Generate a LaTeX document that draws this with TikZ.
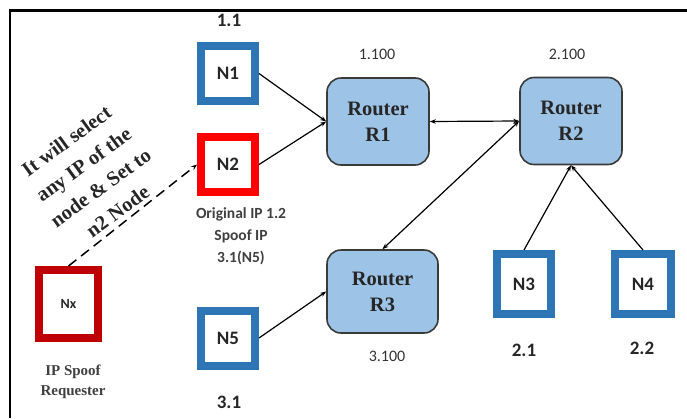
\documentclass[tikz,border=0pt]{standalone}
\usepackage{fontspec}
\setmainfont{Liberation Serif}
\newfontfamily\hostfont{Carlito}
\usetikzlibrary{arrows.meta,positioning}
\definecolor{hostBlue}{HTML}{2E75B6}
\definecolor{spoofRed}{HTML}{FF0000}
\definecolor{reqRed}{HTML}{C00000}
\definecolor{rtrFill}{HTML}{9DC3E6}
\definecolor{rtrDraw}{HTML}{3A3A3A}
\tikzset{
  hostBox/.style={draw=hostBlue, line width=8pt, fill=white, inner sep=0pt,
    minimum width=54pt, minimum height=55pt,
    font=\hostfont\bfseries\fontsize{19}{22}\selectfont, text=black!85},
  spoofBox/.style={hostBox, draw=spoofRed},
  reqBox/.style={hostBox, draw=reqRed, minimum width=59pt, minimum height=68pt,
    font=\hostfont\bfseries\fontsize{14}{16}\selectfont},
  rtrBox/.style={draw=rtrDraw, fill=rtrFill, line width=1.6pt, rounded corners=14pt,
    minimum width=102pt, minimum height=87pt, align=center,
    font=\bfseries\fontsize{20.5}{26}\selectfont, text=black!85},
  %% Address labels
  ipLbl/.style={font=\hostfont\bfseries\fontsize{19}{22}\selectfont, text=black!85},
  rtrLbl/.style={font=\hostfont\fontsize{16}{19}\selectfont, text=black!80},
  noteLbl/.style={font=\hostfont\bfseries\fontsize{15.5}{22}\selectfont, align=center, text=black!75},
  serifNote/.style={font=\bfseries\fontsize{15}{20}\selectfont, align=center, text=black!75},
  %% Links
  link/.style={-{Stealth[length=6pt,width=4.5pt]}, line width=1.2pt},
  biLink/.style={{Stealth[length=6pt,width=4.5pt]}-{Stealth[length=6pt,width=4.5pt]}, line width=1.2pt},
  spoofLink/.style={-{Stealth[length=6pt,width=4.5pt]}, line width=1.5pt, dash pattern=on 10pt off 6pt},
}
\begin{document}
\begin{tikzpicture}[x=1pt, y=-1pt]
\useasboundingbox (0,0) rectangle (687,418);
\draw[line width=2.4pt] (687,10.5) -- (10,10.5) -- (10,418);

\node[hostBox]  (nOne)   at (228,73.5)  {N1};
\node[spoofBox] (nTwo)   at (228,164.5) {N2};
\node[hostBox]  (nFive)  at (228,338)   {N5};
\node[reqBox]   (nX)     at (68.5,304)  {Nx};
\node[hostBox, minimum height=60pt] (nThree) at (524,284) {N3};
\node[hostBox, minimum height=60pt, minimum width=56pt] (nFour) at (643,284) {N4};

\node[rtrBox] (rOne)   at (378,121.5) {Router\\R1};
\node[rtrBox] (rTwo)   at (571,121)   {Router\\R2};
\node[rtrBox, minimum width=111pt, minimum height=83pt] (rThree) at (382.5,291.5) {Router\\R3};

\node[ipLbl]  (ipOne)    at (229,20)  {1.1};
\node[ipLbl]  (ipFive)   at (229,402) {3.1};
\node[ipLbl]  (ipThree)  at (524,350) {2.1};
\node[ipLbl]  (ipFour)   at (642,348) {2.2};
\node[rtrLbl] (ipROne)   at (377,54)  {1.100};
\node[rtrLbl] (ipRTwo)   at (567,54)  {2.100};
\node[rtrLbl] (ipRThree) at (387,356) {3.100};

\node[noteLbl]   (spoofNote) at (241,236) {Original IP 1.2\\Spoof IP\\3.1(N5)};
\node[serifNote] (reqNote)   at (73,382)  {IP Spoof\\Requester};
\node[serifNote, font=\bfseries\fontsize{20.5}{29}\selectfont, text=black!85, rotate=36] (selectNote) at (92,176)
  {It will select\\any IP of the\\node \& Set to\\n2 Node};

\draw[link]   (nOne.east)   -- (rOne.west);
\draw[link]   (nTwo.east)   -- (rOne.west);
\draw[biLink] (rOne.east)   -- (rTwo.west);
\draw[biLink] (rTwo.west)   -- (rThree.north);
\draw[link]   (nFive.east)  -- (rThree.west);
\draw[link]   (nThree.north) -- (rTwo.south);
\draw[link]   (nFour.north)  -- (rTwo.south);
\draw[spoofLink] (nX.north) -- (nTwo.west);

\end{tikzpicture}
\end{document}
